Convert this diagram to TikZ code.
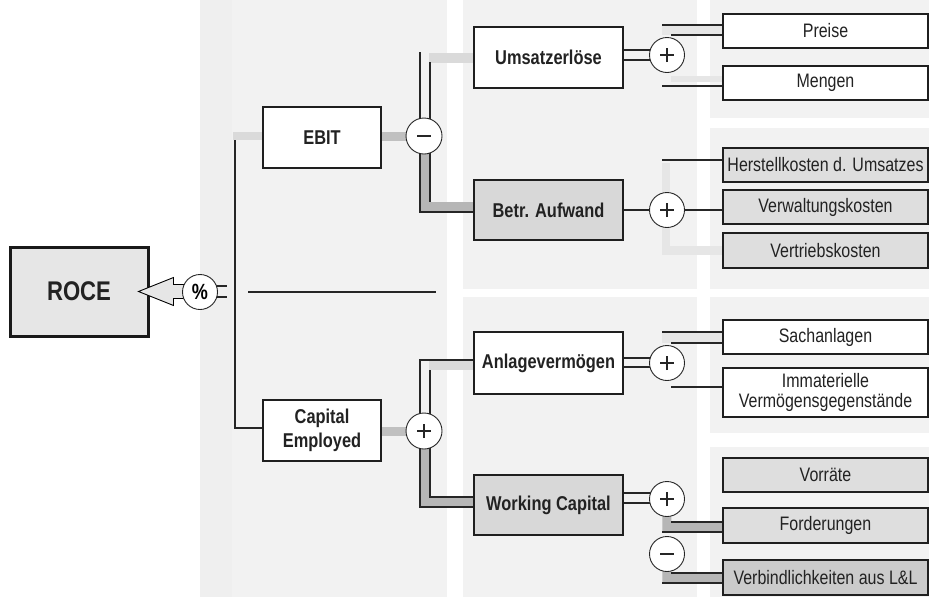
\documentclass[tikz,border=0pt]{standalone}
\usepackage{fontspec}
\setmainfont{Liberation Sans}[FakeStretch=0.82]
\usetikzlibrary{calc}
\pgfdeclarelayer{pnl}
\pgfdeclarelayer{bg}
\pgfsetlayers{pnl,bg,main}
\definecolor{panel}{HTML}{F2F2F2}
\definecolor{panelD}{HTML}{EFEFEF}
\definecolor{lgray}{HTML}{DADADA}
\definecolor{mgray}{HTML}{C0C0C0}
\definecolor{dgray}{HTML}{B6B6B6}
\definecolor{llgray}{HTML}{E6E6E6}
\definecolor{boxgray}{HTML}{D8D8D8}
\definecolor{boxgrayL}{HTML}{DEDEDE}
\definecolor{verbgray}{HTML}{CBCBCB}
\definecolor{rocegray}{HTML}{E6E6E6}
\definecolor{txt}{HTML}{222222}
\begin{document}
\begin{tikzpicture}[x=1pt,y=-1pt,
  box/.style={draw=black!88, line width=1.4pt, fill=white, inner sep=0pt, align=center,
    text=txt, font=\fontsize{20}{24}\selectfont\bfseries, minimum width=149pt, minimum height=61pt},
  gbox/.style={box, fill=boxgray},
  lbox/.style={box, minimum width=118pt},
  sbox/.style={draw=black!88, line width=1.4pt, fill=white, inner sep=0pt, align=center,
    text=txt, font=\fontsize{19.5}{20}\selectfont, minimum width=205pt, minimum height=34pt},
  sgbox/.style={sbox, fill=boxgrayL},
  op/.style={circle, draw=black!85, line width=0.9pt, fill=white, minimum size=35pt, inner sep=0pt},
  plusop/.style={op, path picture={
    \draw[line width=1.7pt] ([xshift=-7pt]path picture bounding box.center) -- ([xshift=7pt]path picture bounding box.center)
      ([yshift=-7pt]path picture bounding box.center) -- ([yshift=7pt]path picture bounding box.center);}},
  minusop/.style={op, path picture={
    \draw[line width=2.6pt] ([xshift=-7pt]path picture bounding box.center) -- ([xshift=7pt]path picture bounding box.center);}},
  blk/.style={line width=1.2pt, draw=black!85},
  band/.style={line width=9pt}
]
\useasboundingbox (0,0) rectangle (929,603);
\begin{pgfonlayer}{pnl}
  \fill[panel] (200,0) rectangle (447,597);
  \fill[panelD] (200,0) rectangle (232,597);
  \fill[panel] (463,0) rectangle (697,289);
  \fill[panel] (463,297) rectangle (697,597);
  \fill[panel] (710,0) rectangle (929,118);
  \fill[panel] (710,128) rectangle (929,289);
  \fill[panel] (710,297) rectangle (929,433);
  \fill[panel] (710,447) rectangle (929,597);
\end{pgfonlayer}

% nodes
\node[draw=black!90, line width=3pt, fill=rocegray, minimum width=138pt, minimum height=89pt,
  text=txt, font=\fontsize{27}{30}\selectfont\bfseries] (roce) at (79,291.5) {ROCE};
\draw[fill=llgray, line width=0.9pt] ($(roce.east)+(-11,0)$) -- ++(35,-14) -- ++(0,7) -- ++(14,0)
  -- ++(0,14) -- ++(-14,0) -- ++(0,7) -- cycle;
\node[op, font=\fontsize{22}{22}\selectfont\bfseries] (pct) at (200,292) {\%};

\node[lbox] (ebit) at (322,137.5) {EBIT};
\node[lbox] (ce) at (322,430.5) {Capital\\Employed};
\node[minusop, minimum size=36pt] (minus1) at (424,136) {};
\node[plusop, minimum size=36pt] (plus1) at (424,431) {};

\node[box] (umsatz) at (548.5,57.5) {Umsatzerlöse};
\node[gbox, minimum height=60pt] (betr) at (548.5,210) {Betr. Aufwand};
\node[box, minimum height=62pt] (anlage) at (548.5,363) {Anlagevermögen};
\node[gbox, minimum height=60pt] (wc) at (548.5,505) {Working Capital};

\node[plusop] (plusU) at (667,55) {};
\node[plusop] (plusB) at (667,210) {};
\node[plusop] (plusA) at (667,363) {};
\node[plusop] (plusW) at (667,499) {};
\node[minusop] (minusW) at (667,554) {};

\node[sbox] (preise) at (825.5,31) {Preise};
\node[sbox] (mengen) at (825.5,83) {Mengen};
\node[sgbox] (herst) at (825.5,165) {Herstellkosten d. Umsatzes};
\node[sgbox] (verw) at (825.5,207) {Verwaltungskosten};
\node[sgbox, minimum height=35pt] (vertr) at (825.5,250.5) {Vertriebskosten};
\node[sbox] (sach) at (825.5,337) {Sachanlagen};
\node[sbox, minimum height=49pt] (immat) at (825.5,392.5) {Immaterielle\\Vermögensgegenstände};
\node[sgbox] (vorr) at (825.5,475) {Vorräte};
\node[sgbox, minimum height=35pt] (ford) at (825.5,525.5) {Forderungen};
\node[sbox, fill=verbgray, minimum height=35pt] (verb) at (825.5,577.5) {Verbindlichkeiten aus L\&L};

\coordinate (trunkTop) at (235,140);
\coordinate (fracL) at (248,292);
\coordinate (fracR) at (436,292);

\begin{pgfonlayer}{bg}
  % division sign outputs
  \draw[blk] ($(pct.center)+(0,-6)$) -- ++(27,0);
  \draw[blk] ($(pct.center)+(0,5)$) -- ++(27,0);
  % trunk
  \draw[band, line width=8pt, lgray] ($(ebit.west)+(0,-1.5)$) -- ++(-29,0);
  \draw[blk] (trunkTop) |- ($(ce.west)+(0,-2.5)$);
  \draw[blk] (fracL) -- (fracR);
  % into operators
  \draw[band, mgray] (ebit.east |- minus1) -- (minus1);
  \draw[band, mgray] (ce.east |- plus1) -- (plus1);
  % minus1 -> Umsatzerloese
  \draw[band, line width=10pt, lgray] (umsatz.west) -- ++(-44,0);
  \draw[blk] ($(minus1)+(-4,0)$) -- ++(0,-84);
  \draw[blk] ($(minus1)+(6,0)$) -- ++(0,-74);
  % minus1 -> Betr. Aufwand
  \fill[dgray] ($(minus1)+(-4,0)$) |- ($(betr.west)+(0,2)$) -- ($(betr.west)+(0,-8)$) -| ($(minus1)+(6,0)$) -- cycle;
  \draw[blk] ($(minus1)+(-4,0)$) |- ($(betr.west)+(0,2)$);
  \draw[blk] ($(minus1)+(6,0)$) -- ++(0,66);
  % plus1 -> Anlagevermoegen
  \draw[band, line width=10pt, lgray] ($(anlage.west)+(0,2)$) -- ++(-44,0);
  \draw[blk] ($(plus1)+(-4,0)$) |- ($(anlage.west)+(0,-3)$);
  \draw[blk] ($(plus1)+(6,0)$) -- ++(0,-61);
  % plus1 -> Working Capital
  \fill[dgray] ($(plus1)+(-4,0)$) |- ($(wc.west)+(0,2)$) -- ($(wc.west)+(0,-8)$) -| ($(plus1)+(6,0)$) -- cycle;
  \draw[blk] ($(plus1)+(-4,0)$) |- ($(wc.west)+(0,2)$);
  \draw[blk] ($(plus1)+(6,0)$) |- ($(wc.west)+(0,-8)$);
  % Umsatz -> plusU -> Preise, Mengen
  \draw[blk] ($(plusU)+(0,-5)$) -- ++(-44,0);
  \draw[blk] ($(plusU)+(0,5)$) -- ++(-44,0);
  \fill[llgray] ($(preise.west)+(-60,-6)$) rectangle ($(preise.west)+(0,4)$);
  \draw[blk] ($(preise.west)+(-60,-6)$) -- ++(60,0);
  \draw[blk] ($(preise.west)+(-51,4)$) -- ++(51,0);
  \fill[llgray] ($(mengen.west)+(-51,-7)$) rectangle ($(mengen.west)+(0,-1)$);
  \draw[blk] ($(mengen.west)+(-60,3)$) -- ++(60,0);
  % Betr -> plusB -> costs
  \fill[llgray] ($(herst.west)+(-60,-2)$) rectangle ($(herst.west)+(-52,90)$);
  \fill[llgray] ($(vertr.west)+(-60,-4.5)$) rectangle ($(vertr.west)+(0,4.5)$);
  \draw[blk] (betr.east) -- (verw.west |- betr.east);
  \draw[blk] ($(herst.west)+(-60,-5)$) -- ++(60,0);
  % Anlage -> plusA
  \draw[blk] ($(plusA)+(0,-5)$) -- ++(-44,0);
  \draw[blk] ($(plusA)+(0,4)$) -- ++(-44,0);
  \fill[llgray] ($(sach.west)+(-60,-5)$) rectangle ($(sach.west)+(0,6)$);
  \draw[blk] ($(sach.west)+(-60,-5)$) -- ++(60,0);
  \draw[blk] ($(sach.west)+(-51,6)$) -- ++(51,0);
  \draw[blk] ($(immat.west)+(-51,-5.5)$) -- ++(51,0);
  % WC -> plusW / minusW
  \draw[blk] ($(plusW)+(0,-6)$) -- ++(-44,0);
  \draw[blk] ($(plusW)+(0,4)$) -- ++(-44,0);
  \fill[dgray] ($(ford.west)+(-60,-10)$) -- ($(ford.west)+(-51,-10)$) -- ($(ford.west)+(-51,-3.5)$)
    -- ($(ford.west)+(0,-3.5)$) -- ($(ford.west)+(0,6.5)$) -- ($(ford.west)+(-60,6.5)$) -- cycle;
  \draw[blk] ($(ford.west)+(-51,-3.5)$) -- ++(51,0);
  \draw[blk] ($(ford.west)+(-60,6.5)$) -- ++(60,0);
  \fill[dgray] ($(verb.west)+(-60,-10)$) -- ($(verb.west)+(-51,-10)$) -- ($(verb.west)+(-51,-4.5)$)
    -- ($(verb.west)+(0,-4.5)$) -- ($(verb.west)+(0,5.5)$) -- ($(verb.west)+(-60,5.5)$) -- cycle;
  \draw[blk] ($(verb.west)+(-51,-4.5)$) -- ++(51,0);
  \draw[blk] ($(verb.west)+(-60,5.5)$) -- ++(60,0);
\end{pgfonlayer}
\end{tikzpicture}
\end{document}
